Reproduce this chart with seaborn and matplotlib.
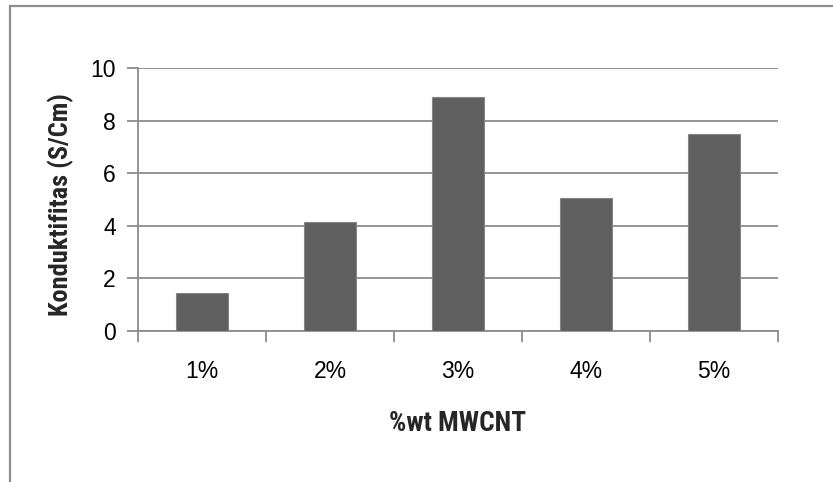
import matplotlib
matplotlib.use("Agg")
import matplotlib.pyplot as plt
from matplotlib.patches import Rectangle
from matplotlib.ticker import FixedLocator
from matplotlib import font_manager
import seaborn as sns
import pandas as pd

# Conductivity per MWCNT loading
categories = ["1%", "2%", "3%", "4%", "5%"]
conductivity = [1.44, 4.16, 8.92, 5.05, 7.49]

x_label = "%wt MWCNT"
y_label = "Konduktifitas (S/Cm)"
y_ticks = [0, 2, 4, 6, 8, 10]

sns.set_theme(style="white")
plt.rcParams["font.family"] = ["Liberation Sans", "DejaVu Sans"]

# prefer a condensed bold face for the axis titles when one is available
installed = {f.name for f in font_manager.fontManager.ttflist}
narrow = [n for n in ["Liberation Sans Narrow", "Arial Narrow", "DejaVu Sans Condensed",
                      "Roboto Condensed", "Open Sans Condensed"] if n in installed]
label_family = narrow + ["Liberation Sans", "DejaVu Sans"]
x_label_size = 19.5 if narrow else 17
y_label_size = 19 if narrow else 16

df = pd.DataFrame({"cat": categories, "val": conductivity})

fig = plt.figure(figsize=(8.33, 4.82), dpi=100)
ax = fig.add_axes([138 / 833, 1 - 331 / 482, 640 / 833, (331 - 68.3) / 482])

grid_col = "#8c8c8c"
sns.barplot(data=df, x="cat", y="val", ax=ax, color="#5f5f5f", saturation=1,
            width=0.4, edgecolor="#858585", linewidth=0.8, zorder=3)

ax.set_ylim(0, 10)
ax.set_xlim(-0.5, len(categories) - 0.5)
ax.set_yticks(y_ticks)
ax.set_yticklabels([str(t) for t in y_ticks])
ax.yaxis.grid(True, color=grid_col, linewidth=1.3, zorder=0)
ax.set_axisbelow(True)

for side in ["top", "right"]:
    ax.spines[side].set_visible(False)
for side in ["left", "bottom"]:
    ax.spines[side].set_color(grid_col)
    ax.spines[side].set_linewidth(1.3)

# category separators as outward ticks, labels centred without ticks
ax.xaxis.set_minor_locator(FixedLocator([i - 0.5 for i in range(len(categories) + 1)]))
ax.tick_params(axis="x", which="major", length=0, pad=21, labelsize=16.5, colors="black")
ax.tick_params(axis="x", which="minor", bottom=True, length=8, width=1.3, color=grid_col)
ax.tick_params(axis="y", which="major", left=True, length=8, width=1.3, color=grid_col,
               pad=8, labelsize=16.5, labelcolor="black")

ax.set_xlabel(x_label, labelpad=19, family=label_family, fontweight="bold",
              fontsize=x_label_size)
ax.set_ylabel(y_label, labelpad=12, family=label_family, fontweight="bold",
              fontsize=y_label_size, y=0.483)

# outer frame of the chart area (top and left edges visible)
fig.patches.append(Rectangle((9.5 / 833, -0.2), 1.2, 1.2 - 5.5 / 482,
                             transform=fig.transFigure, fill=False,
                             edgecolor=grid_col, linewidth=1.6))

fig.savefig("out.png", dpi=100, facecolor="white")
